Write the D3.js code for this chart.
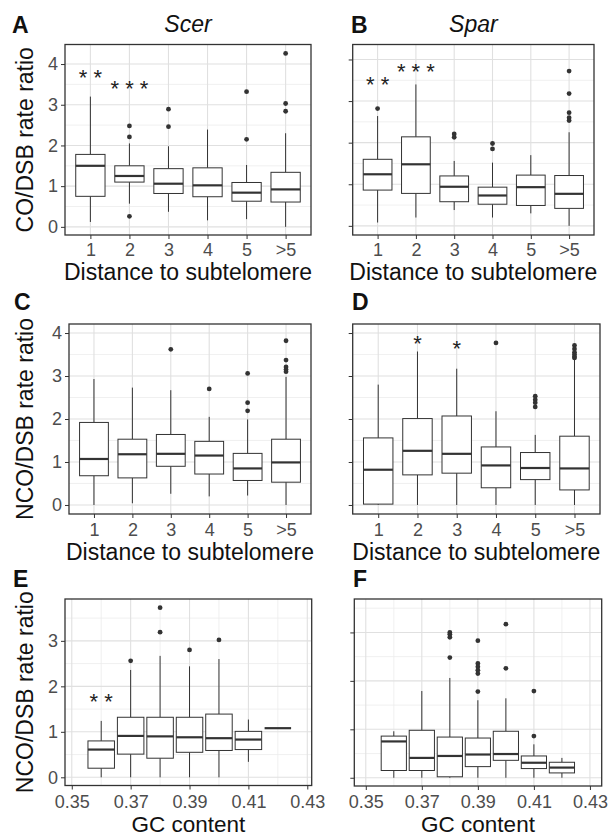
<!DOCTYPE html>
<html>
<head>
<meta charset="utf-8">
<script src="https://cdn.jsdelivr.net/npm/d3@7"></script>
<style>
  body { margin: 0; background: #fff; }
  text { font-family: "Liberation Sans", Arial, Helvetica, sans-serif; }
</style>
</head>
<body>
<script>
// categories and ticks
var distCats = ["1", "2", "3", "4", "5", ">5"];
var gcCats = [0.36, 0.37, 0.38, 0.39, 0.40, 0.41, 0.42];
var gcTicks = [0.35, 0.37, 0.39, 0.41, 0.43];

// box stats: lo, q1, med, q3, hi, outliers
var scerCO = [
  {lo: 0.12, q1: 0.75, med: 1.50, q3: 1.78, hi: 3.20, out: []},
  {lo: 0.57, q1: 1.10, med: 1.25, q3: 1.50, hi: 2.05, out: [2.48, 2.21, 0.26]},
  {lo: 0.37, q1: 0.82, med: 1.06, q3: 1.43, hi: 1.98, out: [2.89, 2.46]},
  {lo: 0.16, q1: 0.74, med: 1.02, q3: 1.45, hi: 2.39, out: []},
  {lo: 0.19, q1: 0.63, med: 0.84, q3: 1.09, hi: 1.52, out: [3.32, 2.15]},
  {lo: 0.00, q1: 0.61, med: 0.92, q3: 1.34, hi: 2.30, out: [4.26, 3.03, 2.84]}
];
var sparCO = [
  {lo: 0.08, q1: 0.86, med: 1.24, q3: 1.60, hi: 2.64, out: [2.82]},
  {lo: 0.20, q1: 0.78, med: 1.48, q3: 2.14, hi: 3.40, out: []},
  {lo: 0.38, q1: 0.58, med: 0.94, q3: 1.20, hi: 1.56, out: [2.21, 2.13]},
  {lo: 0.20, q1: 0.52, med: 0.73, q3: 0.93, hi: 1.52, out: [1.98, 1.85]},
  {lo: 0.30, q1: 0.49, med: 0.93, q3: 1.22, hi: 1.70, out: []},
  {lo: 0.00, q1: 0.42, med: 0.77, q3: 1.21, hi: 2.25, out: [3.72, 3.18, 2.72, 2.60, 2.53]}
];
var scerNCO = [
  {lo: 0.00, q1: 0.68, med: 1.07, q3: 1.92, hi: 2.93, out: []},
  {lo: 0.04, q1: 0.63, med: 1.18, q3: 1.53, hi: 2.73, out: []},
  {lo: 0.26, q1: 0.90, med: 1.19, q3: 1.64, hi: 2.67, out: [3.62]},
  {lo: 0.20, q1: 0.72, med: 1.15, q3: 1.48, hi: 2.05, out: [2.70]},
  {lo: 0.22, q1: 0.57, med: 0.85, q3: 1.20, hi: 1.99, out: [3.06, 2.38, 2.19]},
  {lo: 0.00, q1: 0.53, med: 0.99, q3: 1.53, hi: 2.98, out: [3.82, 3.37, 3.21, 3.15, 3.10]}
];
var sparNCO = [
  {lo: 0.00, q1: 0.02, med: 0.82, q3: 1.56, hi: 2.80, out: []},
  {lo: 0.00, q1: 0.70, med: 1.26, q3: 2.01, hi: 3.57, out: []},
  {lo: 0.00, q1: 0.74, med: 1.19, q3: 2.07, hi: 3.17, out: []},
  {lo: 0.00, q1: 0.40, med: 0.92, q3: 1.35, hi: 2.18, out: [3.77]},
  {lo: 0.00, q1: 0.59, med: 0.86, q3: 1.22, hi: 1.63, out: [2.53, 2.45, 2.38, 2.28]},
  {lo: 0.00, q1: 0.35, med: 0.85, q3: 1.60, hi: 3.38, out: [3.71, 3.63, 3.55, 3.50, 3.45, 3.42]}
];
var scerGC = [
  {lo: 0.00, q1: 0.20, med: 0.61, q3: 0.80, hi: 1.24, out: []},
  {lo: 0.00, q1: 0.51, med: 0.91, q3: 1.32, hi: 2.36, out: [2.56]},
  {lo: 0.00, q1: 0.42, med: 0.90, q3: 1.32, hi: 2.67, out: [3.73, 3.19]},
  {lo: 0.00, q1: 0.55, med: 0.88, q3: 1.32, hi: 2.44, out: [2.80]},
  {lo: 0.00, q1: 0.59, med: 0.86, q3: 1.39, hi: 2.60, out: [3.02]},
  {lo: 0.34, q1: 0.61, med: 0.83, q3: 1.01, hi: 1.27, out: []},
  {lo: 1.08, q1: 1.08, med: 1.08, q3: 1.08, hi: 1.08, out: []}
];
var sparGC = [
  {lo: 0.00, q1: 0.15, med: 0.75, q3: 0.86, hi: 0.96, out: []},
  {lo: 0.00, q1: 0.15, med: 0.41, q3: 0.98, hi: 1.79, out: []},
  {lo: 0.00, q1: 0.02, med: 0.45, q3: 0.84, hi: 2.06, out: [3.00, 2.96, 2.90, 2.48]},
  {lo: 0.00, q1: 0.23, med: 0.48, q3: 0.82, hi: 1.60, out: [2.83, 2.36, 2.29, 2.22, 2.15, 1.78]},
  {lo: 0.00, q1: 0.36, med: 0.49, q3: 0.96, hi: 1.64, out: [3.17, 2.26]},
  {lo: 0.00, q1: 0.19, med: 0.31, q3: 0.45, hi: 0.69, out: [1.79, 0.86]},
  {lo: 0.00, q1: 0.10, med: 0.21, q3: 0.32, hi: 0.41, out: []}
];

// significance stars: category index, height, label
var scerCOStars = [{i: 0, v: 3.78, s: "* *"}, {i: 1, v: 3.52, s: "* * *"}];
var sparCOStars = [{i: 0, v: 3.50, s: "* *"}, {i: 1, v: 3.82, s: "* * *"}];
var sparNCOStars = [{i: 1, v: 3.86, s: "*"}, {i: 2, v: 3.75, s: "*"}];
var scerGCStars = [{i: 0, v: 1.76, s: "* *"}];

var svg = d3.select("body").append("svg")
  .attr("width", 616)
  .attr("height", 837);

var dark = "#333333";

function drawPanel(p) {
  var g = svg.append("g");
  var gc = p.cats === gcCats;
  var x, boxW, pos;
  if (gc) {
    x = d3.scaleLinear().domain(p.xDomain).range([p.left, p.right]);
    boxW = x(0.009) - x(0);
    pos = function(i) { return x(gcCats[i]); };
  } else {
    x = d3.scalePoint().domain(distCats).range([p.left, p.right]).padding(0.65);
    boxW = x.step() * 0.75;
    pos = function(i) { return x(distCats[i]); };
  }
  var y = d3.scaleLinear().domain(p.yDomain).range([p.bottom, p.top]);

  // grid
  var yMinor = d3.range(-0.5, p.yDomain[1], 1).filter(function(v) { return v > p.yDomain[0]; });
  g.selectAll(".ymin").data(yMinor).enter().append("line")
    .attr("x1", p.left).attr("x2", p.right)
    .attr("y1", d => y(d)).attr("y2", d => y(d))
    .attr("stroke", "#ececec").attr("stroke-width", 0.8);
  if (gc) {
    g.selectAll(".xmin").data(gcCats.filter((d, i) => i % 2 == 0)).enter().append("line")
      .attr("y1", p.top).attr("y2", p.bottom)
      .attr("x1", d => x(d)).attr("x2", d => x(d))
      .attr("stroke", "#ececec").attr("stroke-width", 0.8);
  }
  g.selectAll(".ymaj").data(p.yTicks).enter().append("line")
    .attr("x1", p.left).attr("x2", p.right)
    .attr("y1", d => y(d)).attr("y2", d => y(d))
    .attr("stroke", "#e0e0e0").attr("stroke-width", 1.1);
  var xMajor = gc ? gcTicks : distCats;
  g.selectAll(".xmaj").data(xMajor).enter().append("line")
    .attr("y1", p.top).attr("y2", p.bottom)
    .attr("x1", d => x(d)).attr("x2", d => x(d))
    .attr("stroke", "#e0e0e0").attr("stroke-width", 1.1);

  // boxes
  var boxes = g.selectAll(".box").data(p.data).enter().append("g");
  boxes.append("line")
    .attr("x1", (d, i) => pos(i)).attr("x2", (d, i) => pos(i))
    .attr("y1", d => y(d.hi)).attr("y2", d => y(d.q3))
    .attr("stroke", dark).attr("stroke-width", 1);
  boxes.append("line")
    .attr("x1", (d, i) => pos(i)).attr("x2", (d, i) => pos(i))
    .attr("y1", d => y(d.q1)).attr("y2", d => y(d.lo))
    .attr("stroke", dark).attr("stroke-width", 1);
  boxes.append("rect")
    .attr("x", (d, i) => pos(i) - boxW / 2)
    .attr("width", boxW)
    .attr("y", d => y(d.q3))
    .attr("height", d => y(d.q1) - y(d.q3))
    .attr("fill", "#fff").attr("stroke", dark).attr("stroke-width", 1);
  boxes.append("line")
    .attr("x1", (d, i) => pos(i) - boxW / 2).attr("x2", (d, i) => pos(i) + boxW / 2)
    .attr("y1", d => y(d.med)).attr("y2", d => y(d.med))
    .attr("stroke", dark).attr("stroke-width", 2.2);
  boxes.each(function(d, i) {
    d3.select(this).selectAll("circle").data(d.out).enter().append("circle")
      .attr("cx", pos(i)).attr("cy", v => y(v))
      .attr("r", 2.4).attr("fill", dark);
  });

  // stars
  if (p.stars) {
    g.selectAll(".star").data(p.stars).enter().append("text")
      .attr("x", d => pos(d.i))
      .attr("y", d => y(d.v) + 12)
      .attr("text-anchor", "middle")
      .attr("font-size", "22px")
      .attr("fill", "#222")
      .text(d => d.s);
  }

  // frame
  g.append("rect")
    .attr("x", p.left).attr("y", p.top)
    .attr("width", p.right - p.left).attr("height", p.bottom - p.top)
    .attr("fill", "none").attr("stroke", dark).attr("stroke-width", 1.3);

  // axes
  var leftAxis = d3.axisLeft(y).tickValues(p.yTicks).tickSize(4).tickPadding(3)
    .tickFormat(p.yLabels ? d3.format("d") : "");
  var ya = g.append("g").attr("transform", "translate(" + p.left + ",0)").call(leftAxis);
  var bottomAxis = d3.axisBottom(x).tickSize(4).tickPadding(p.xPad);
  if (gc) bottomAxis.tickValues(gcTicks).tickFormat(d3.format(".2f"));
  var xa = g.append("g").attr("transform", "translate(0," + p.bottom + ")").call(bottomAxis);
  [ya, xa].forEach(function(a) {
    a.select(".domain").remove();
    a.selectAll("line").attr("stroke", dark).attr("stroke-width", 1);
    a.selectAll("text").attr("fill", "#4d4d4d").attr("font-size", "18px")
      .style("font-family", "'Liberation Sans', Arial, sans-serif");
  });

  // titles
  g.append("text")
    .attr("x", (p.left + p.right) / 2)
    .attr("y", p.xTitleY)
    .attr("text-anchor", "middle")
    .attr("font-size", p.xTitleSize || "23px")
    .attr("fill", "#111")
    .text(p.xTitle);
  if (p.yTitle) {
    g.append("text")
      .attr("transform", "translate(33," + (p.top + p.bottom) / 2 + ") rotate(-90)")
      .attr("text-anchor", "middle")
      .attr("font-size", "23px")
      .attr("fill", "#111")
      .text(p.yTitle);
  }
  g.append("text")
    .attr("x", p.tagX).attr("y", p.tagY)
    .attr("font-size", "23px")
    .attr("font-weight", "bold")
    .attr("fill", "#111")
    .text(p.tag);
  if (p.title) {
    g.append("text")
      .attr("x", (p.left + p.right) / 2).attr("y", 31.5)
      .attr("text-anchor", "middle")
      .attr("font-size", "23px")
      .attr("font-style", "italic")
      .attr("fill", "#111")
      .text(p.title);
  }
}

drawPanel({tag: "A", tagX: 12, tagY: 32.5, title: "Scer", cats: distCats, data: scerCO, stars: scerCOStars,
  left: 65, right: 311, top: 44.5, bottom: 235, yDomain: [-0.2, 4.48], yTicks: [0, 1, 2, 3, 4],
  yLabels: true, xPad: 4, xTitle: "Distance to subtelomere", xTitleY: 280, yTitle: "CO/DSB rate ratio"});
drawPanel({tag: "B", tagX: 351, tagY: 32.5, title: "Spar", cats: distCats, data: sparCO, stars: sparCOStars,
  left: 352.7, right: 594, top: 44.5, bottom: 235, yDomain: [-0.22, 4.36], yTicks: [0, 1, 2, 3, 4],
  yLabels: false, xPad: 4, xTitle: "Distance to subtelomere", xTitleY: 280});
drawPanel({tag: "C", tagX: 14, tagY: 310, cats: distCats, data: scerNCO,
  left: 69, right: 311, top: 324, bottom: 514, yDomain: [-0.21, 4.21], yTicks: [0, 1, 2, 3, 4],
  yLabels: true, xPad: 5, xTitle: "Distance to subtelomere", xTitleY: 559.5, yTitle: "NCO/DSB rate ratio"});
drawPanel({tag: "D", tagX: 352, tagY: 310, cats: distCats, data: sparNCO, stars: sparNCOStars,
  left: 352.7, right: 600, top: 324, bottom: 514, yDomain: [-0.21, 4.21], yTicks: [0, 1, 2, 3, 4],
  yLabels: false, xPad: 5, xTitle: "Distance to subtelomere", xTitleY: 559.5});
drawPanel({tag: "E", tagX: 13, tagY: 587, cats: gcCats, data: scerGC, stars: scerGCStars, xDomain: [0.3477, 0.4315],
  left: 65, right: 311.7, top: 599, bottom: 785.5, yDomain: [-0.18, 3.92], yTicks: [0, 1, 2, 3],
  yLabels: true, xPad: 5.5, xTitle: "GC content", xTitleY: 832, xTitleSize: "22.5px", yTitle: "NCO/DSB rate ratio"});
drawPanel({tag: "F", tagX: 353, tagY: 587, cats: gcCats, data: sparGC, xDomain: [0.3459, 0.4342],
  left: 354.3, right: 601.7, top: 599, bottom: 786, yDomain: [-0.17, 3.69], yTicks: [0, 1, 2, 3],
  yLabels: false, xPad: 5.5, xTitle: "GC content", xTitleY: 832, xTitleSize: "22.5px"});
</script>
</body>
</html>
